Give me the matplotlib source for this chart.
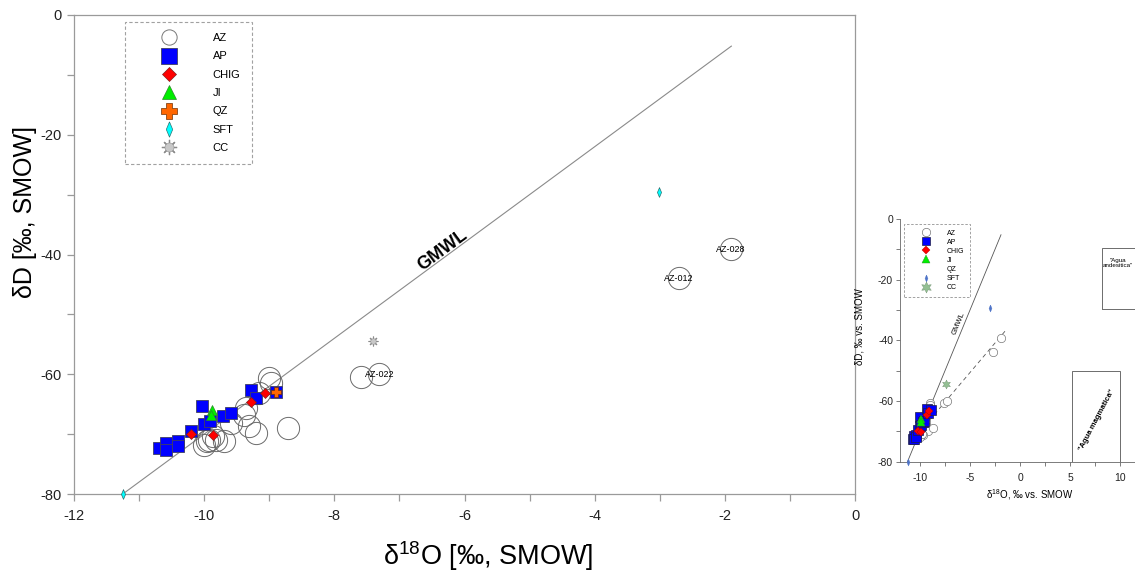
import matplotlib
matplotlib.use("Agg")
import matplotlib.pyplot as plt
from matplotlib.lines import Line2D
from matplotlib.patches import Rectangle
from matplotlib.legend_handler import HandlerTuple
from matplotlib.ticker import MultipleLocator

plt.rcParams["font.family"] = ["Liberation Sans", "DejaVu Sans"]
plt.rcParams["mathtext.fontset"] = "custom"
plt.rcParams["mathtext.rm"] = "Liberation Sans"
plt.rcParams["mathtext.it"] = "Liberation Sans:italic"
plt.rcParams["axes.unicode_minus"] = False

# ---- data (delta18O, deltaD) ----
az_x = [-9.00, -8.98, -9.16, -9.36, -9.39, -9.59, -9.31, -9.21, -9.70, -9.95,
        -10.00, -9.87, -9.93, -9.82, -8.71, -7.59, -7.31, -2.71, -1.91]
az_y = [-60.7, -61.4, -63.2, -65.6, -66.8, -68.2, -68.7, -69.8, -71.2, -71.2,
        -71.8, -70.3, -71.0, -71.0, -68.9, -60.5, -60.0, -44.0, -39.1]
ap_x = [-10.70, -10.58, -10.58, -10.40, -10.40, -10.20, -10.03, -10.00, -9.91,
        -9.71, -9.59, -9.28, -9.21, -8.90]
ap_y = [-72.4, -71.4, -72.6, -71.1, -72.0, -69.4, -65.3, -68.3, -67.8,
        -66.9, -66.5, -62.6, -63.9, -63.0]
chig_x = [-10.20, -9.87, -9.28, -9.07]
chig_y = [-70.0, -70.1, -64.6, -63.2]
ji_x = [-9.88, -9.90]
ji_y = [-66.0, -66.8]
qz_x = [-8.90]
qz_y = [-63.0]
sft_x = [-11.24, -3.01]
sft_y = [-80.0, -29.5]
cc_x = [-7.41]
cc_y = [-54.5]

labels_txt = ["AZ-022", "AZ-012", "AZ-028"]
labels_x = [-7.31, -2.71, -1.91]
labels_y = [-60.0, -44.0, -39.1]

gmwl_x = [-11.25, -1.9]
gmwl_y = [-80.0, -5.2]
trend_x = [-10.5, -1.4]
trend_y = [-72.0, -36.6]

thin_diamond = [(0, 1), (0.42, 0), (0, -1), (-0.42, 0), (0, 1)]

W, H = 1135, 574
fig = plt.figure(figsize=(W / 100, H / 100), dpi=100)

# ================= main plot =================
ax = fig.add_axes([74 / W, 80 / H, 781 / W, 479 / H])
ax.set_xlim(-12, 0)
ax.set_ylim(-80, 0)

ax.plot(gmwl_x, gmwl_y, color="#8a8a8a", lw=0.8, zorder=1)
ax.text(-6.33, -39.4, "GMWL", rotation=36.4, ha="center", va="center",
        fontsize=13, fontweight="bold")

ax.plot(az_x, az_y, "o", ms=16, mfc="none", mec="#6a6a6a", mew=0.7, zorder=2)
ax.plot(ap_x, ap_y, "s", ms=8, mfc="#0000ff", mec="#404060", mew=0.6, zorder=3)
ax.plot(chig_x, chig_y, "D", ms=5.5, mfc="#ff0000", mec="#802020", mew=0.5, zorder=4)
ax.plot(ji_x, ji_y, "^", ms=7.5, mfc="#00ee00", mec="#2a8a2a", mew=0.5, zorder=4)
ax.plot(qz_x, qz_y, "P", ms=7.5, mfc="#ff6600", mec="#703000", mew=0.5, zorder=5)
ax.plot(sft_x, sft_y, marker=thin_diamond, ls="none", ms=7, mfc="#00ffff",
        mec="#307070", mew=0.5, zorder=5, clip_on=False)
ax.plot(cc_x, cc_y, marker=(8, 2, 0), ls="none", ms=7, mec="#8a8a8a", mew=0.8, zorder=5)
ax.plot(cc_x, cc_y, "o", ms=4, mfc="#c8c8c8", mec="#909090", mew=0.4, zorder=6)

for t, x, y in zip(labels_txt, labels_x, labels_y):
    ax.text(x, y, t, ha="center", va="center", fontsize=6.5, zorder=7)

for s in ax.spines.values():
    s.set_color("#9a9a9a")
    s.set_linewidth(0.9)
ax.xaxis.set_major_locator(MultipleLocator(2))
ax.xaxis.set_minor_locator(MultipleLocator(1))
ax.yaxis.set_major_locator(MultipleLocator(20))
ax.yaxis.set_minor_locator(MultipleLocator(10))
ax.tick_params(which="both", direction="out", length=5, width=0.9, color="#9a9a9a",
               labelsize=10.5, labelcolor="#222222")
ax.tick_params(axis="x", pad=6)
ax.tick_params(axis="y", pad=4)
ax.set_xlabel(r"δ$^{18}$O [‰, SMOW]", fontsize=19.5)
ax.set_ylabel("δD [‰, SMOW]", fontsize=18)
ax.xaxis.set_label_coords((488 - 74) / 781, (494 - 539) / 479)
ax.yaxis.set_label_coords((37 - 74) / 781, (494 - 212) / 479)

leg_handles = [
    Line2D([], [], ls="none", marker="o", ms=11, mfc="white", mec="#777777", mew=0.7),
    Line2D([], [], ls="none", marker="s", ms=11, mfc="#0000ff", mec="#404060", mew=0.6),
    Line2D([], [], ls="none", marker="D", ms=7.5, mfc="#ff0000", mec="#802020", mew=0.5),
    Line2D([], [], ls="none", marker="^", ms=10, mfc="#00ee00", mec="#2a8a2a", mew=0.5),
    Line2D([], [], ls="none", marker="P", ms=11, mfc="#ff6600", mec="#703000", mew=0.5),
    Line2D([], [], ls="none", marker=thin_diamond, ms=11, mfc="#00ffff", mec="#307070", mew=0.5),
    (Line2D([], [], ls="none", marker=(8, 2, 0), ms=11, mec="#8a8a8a", mew=0.9),
     Line2D([], [], ls="none", marker="o", ms=6.5, mfc="#c8c8c8", mec="#909090", mew=0.4)),
]
leg_labels = ["AZ", "AP", "CHIG", "JI", "QZ", "SFT", "CC"]
leg = ax.legend(leg_handles, leg_labels, loc="upper left",
                bbox_to_anchor=((125 - 74) / 781, (494 - 22) / 479), borderaxespad=0,
                fontsize=8, handlelength=5.9, handletextpad=1.0, borderpad=1.0,
                labelspacing=0.75, numpoints=1, fancybox=False,
                handler_map={tuple: HandlerTuple(ndivide=1)})
fr = leg.get_frame()
fr.set_linestyle((0, (3, 2)))
fr.set_edgecolor("#8a8a8a")
fr.set_linewidth(0.8)

# ================= small inset figure =================
ax2 = fig.add_axes([900 / W, (H - 461.7) / H, 255 / W, (461.7 - 219) / H])
ax2.set_xlim(-12, 13.5)
ax2.set_ylim(-80, 0)
ax2.spines["top"].set_visible(False)
ax2.spines["right"].set_visible(False)
for s in ("left", "bottom"):
    ax2.spines[s].set_color("#666666")
    ax2.spines[s].set_linewidth(0.6)
ax2.xaxis.set_major_locator(MultipleLocator(5))
ax2.xaxis.set_minor_locator(MultipleLocator(2.5))
ax2.yaxis.set_major_locator(MultipleLocator(20))
ax2.yaxis.set_minor_locator(MultipleLocator(10))
ax2.tick_params(which="both", direction="out", length=3, width=0.6, color="#666666",
                labelsize=7.5, labelcolor="#222222", pad=2)
ax2.tick_params(axis="x", pad=5)
ax2.set_xlabel(r"δ$^{18}$O, ‰ vs. SMOW", fontsize=7)
ax2.set_ylabel("δD, ‰ vs. SMOW", fontsize=7)
ax2.xaxis.set_label_coords((1030 - 900) / 255, (461.7 - 487) / 242.7)
ax2.yaxis.set_label_coords((865 - 900) / 255, (461.7 - 327) / 242.7)

ax2.add_patch(Rectangle((8.2, -29.7), 6.0, 20.1, fill=False, ec="#555555", lw=0.6))
ax2.text(9.8, -14.5, "\"Agua\nandesitica\"", ha="center", va="center", fontsize=4.5,
         linespacing=1.0)
ax2.add_patch(Rectangle((5.2, -80), 4.8, 30, fill=False, ec="#555555", lw=0.6))
ax2.text(7.65, -66.3, "\"Agua magmatica\"", rotation=62, ha="center", va="center",
         fontsize=5.5, fontweight="bold")

ax2.plot(gmwl_x, gmwl_y, color="#555555", lw=0.6, zorder=1)
ax2.text(-6.1, -34.4, "GMWL", rotation=67.6, ha="center", va="center", fontsize=5.5)
ax2.plot(trend_x, trend_y, color="#555555", lw=0.6, ls=(0, (5, 4)), zorder=1)

ax2.plot(az_x, az_y, "o", ms=6, mfc="white", mec="#777777", mew=0.5, zorder=2)
ax2.plot(ap_x, ap_y, "s", ms=6.5, mfc="#0000ff", mec="#202040", mew=0.5, zorder=3)
ax2.plot(chig_x, chig_y, "D", ms=4, mfc="#ff0000", mec="#aa0000", mew=0.3, zorder=4)
ax2.plot(ji_x, ji_y, "^", ms=5.5, mfc="#00ee00", mec="#2a8a2a", mew=0.3, zorder=4)
ax2.plot(sft_x, sft_y, marker=thin_diamond, ls="none", ms=5, mfc="#4f74c8",
         mec="#4f74c8", mew=0.3, zorder=5, clip_on=False)
ax2.plot(cc_x, cc_y, marker=(6, 1, 0), ls="none", ms=6.5, mfc="#93c093", mec="#6f8f6f",
         mew=0.3, zorder=5)

in_handles = [
    Line2D([], [], ls="none", marker="o", ms=6, mfc="white", mec="#777777", mew=0.5),
    Line2D([], [], ls="none", marker="s", ms=6, mfc="#0000ff", mec="#202040", mew=0.5),
    Line2D([], [], ls="none", marker="D", ms=4, mfc="#ff0000", mec="#aa0000", mew=0.3),
    Line2D([], [], ls="none", marker="^", ms=6, mfc="#00ee00", mec="#2a8a2a", mew=0.3),
    Line2D([], [], ls="none"),
    Line2D([], [], ls="none", marker=thin_diamond, ms=5, mfc="#4f74c8", mec="#4f74c8", mew=0.3),
    Line2D([], [], ls="none", marker=(6, 1, 0), ms=8, mfc="#93c093", mec="#6f8f6f", mew=0.3),
]
leg2 = ax2.legend(in_handles, leg_labels, loc="upper left",
                  bbox_to_anchor=((904 - 900) / 255, (461.7 - 224) / 242.7), borderaxespad=0,
                  fontsize=5, handlelength=4.6, handletextpad=0.8, borderpad=0.8,
                  labelspacing=0.3, numpoints=1, fancybox=False)
fr2 = leg2.get_frame()
fr2.set_linestyle((0, (3, 2)))
fr2.set_edgecolor("#777777")
fr2.set_linewidth(0.6)

fig.savefig("out.png", dpi=100)
